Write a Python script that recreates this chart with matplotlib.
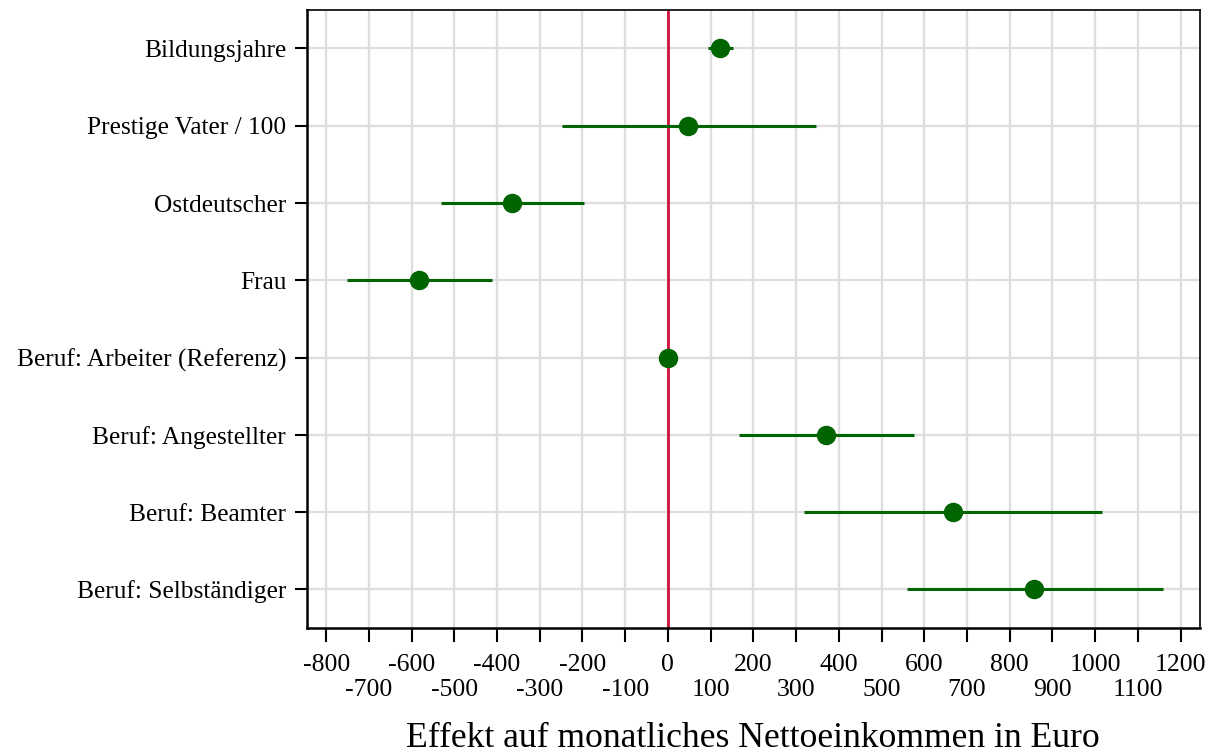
import matplotlib
matplotlib.use("Agg")
import matplotlib.pyplot as plt
import numpy as np

plt.rcParams.update({
    "font.family": ["Liberation Serif", "DejaVu Serif"],
    "font.size": 18,
})

# coefficients (Euro) with 95% confidence intervals
labels = ["Bildungsjahre", "Prestige Vater / 100", "Ostdeutscher", "Frau",
          "Beruf: Arbeiter (Referenz)", "Beruf: Angestellter",
          "Beruf: Beamter", "Beruf: Selbständiger"]
coef = [122, 47, -365, -582, 0, 370, 667, 858]
ci_low = [94, -248, -531, -751, 0, 166, 318, 559]
ci_high = [152, 346, -196, -412, 0, 575, 1015, 1158]

major_ticks = list(range(-800, 1201, 200))
minor_ticks = list(range(-700, 1101, 200))

GREEN = "#006400"
RED = "#d0103a"
GRID = "#dedede"

fig = plt.figure(figsize=(12.23, 7.54), dpi=100)
ax = fig.add_axes([0.251, 0.167, 0.730, 0.820])

y = np.arange(len(labels))
ax.hlines(y, ci_low, ci_high, color=GREEN, lw=2.2, zorder=2.5)
ax.axvline(0, color=RED, lw=2.0, zorder=2)
ax.plot(coef, y, "o", color=GREEN, ms=13, zorder=3)

ax.set_xlim(-845, 1245)
ax.set_ylim(len(labels) - 0.5, -0.5)
ax.set_yticks(y)
ax.set_yticklabels(labels, fontsize=18.3)

ax.set_xticks(major_ticks)
ax.set_xticklabels([str(t) for t in major_ticks])
ax.set_xticks(minor_ticks, minor=True)
ax.set_xticklabels([str(t) for t in minor_ticks], minor=True)
ax.tick_params(axis="x", which="major", length=10, width=1.5, pad=9, labelsize=18.5)
ax.tick_params(axis="x", which="minor", length=10, width=1.5, pad=27, labelsize=18.5)
ax.tick_params(axis="y", length=9, width=1.5, pad=6)

ax.grid(True, which="both", axis="x", color=GRID, lw=1.7, zorder=0)
ax.grid(True, which="major", axis="y", color=GRID, lw=1.7, zorder=0)
ax.set_axisbelow(True)

for side in ["left", "bottom"]:
    ax.spines[side].set_linewidth(1.8)
for side in ["top", "right"]:
    ax.spines[side].set_linewidth(1.2)

ax.set_xlabel("Effekt auf monatliches Nettoeinkommen in Euro", fontsize=25.7, labelpad=15)

fig.savefig("out.png", dpi=100)
